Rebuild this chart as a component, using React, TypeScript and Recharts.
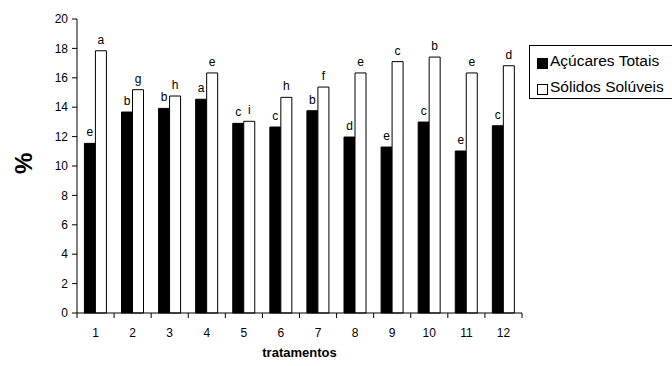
import { BarChart, Bar, XAxis, YAxis, LabelList, Label } from "recharts"

const tratamentos = ["1", "2", "3", "4", "5", "6", "7", "8", "9", "10", "11", "12"]
const acucaresTotais = [11.54, 13.67, 13.92, 14.54, 12.9, 12.65, 13.76, 11.97, 11.29, 12.99, 11.02, 12.74]
const solidosSoluveis = [17.84, 15.19, 14.76, 16.33, 13.04, 14.67, 15.37, 16.33, 17.1, 17.41, 16.33, 16.82]
const letrasAcucares = ["e", "b", "b", "a", "c", "c", "b", "d", "e", "c", "e", "c"]
const letrasSolidos = ["a", "g", "h", "e", "i", "h", "f", "e", "c", "b", "e", "d"]
const yTicks = [0, 2, 4, 6, 8, 10, 12, 14, 16, 18, 20]

const data = tratamentos.map((t, i) => ({
  t,
  acucar: acucaresTotais[i],
  solido: solidosSoluveis[i],
  la: letrasAcucares[i],
  ls: letrasSolidos[i],
}))

const W = 672
const H = 366
const xAxisH = 53
const yAxisW = 77
const margin = { top: 19, right: 150, bottom: 0, left: 0 }
const font = "Arial, 'Liberation Sans', sans-serif"
const step = (W - margin.right - yAxisW) / tratamentos.length
const axisY = H - xAxisH

function CatTick(props: any) {
  const { x, payload, index } = props
  const last = index === tratamentos.length - 1
  return (
    <g>
      <line x1={x - step / 2} x2={x - step / 2} y1={axisY} y2={axisY + 5} stroke="#000" />
      {last && <line x1={x + step / 2} x2={x + step / 2} y1={axisY} y2={axisY + 5} stroke="#000" />}
      <text x={x} y={axisY + 20} textAnchor="middle" dominantBaseline="central" fontSize={12} fontFamily={font} fill="#000">
        {payload.value}
      </text>
    </g>
  )
}

function LegendBox() {
  const items = [
    { label: "Açúcares Totais", fill: "#000" },
    { label: "Sólidos Solúveis", fill: "#fff" },
  ]
  return (
    <div
      style={{
        position: "absolute",
        left: 529,
        top: 45,
        border: "1px solid #000",
        borderRight: "none",
        width: 150,
        height: 54,
        boxSizing: "border-box",
        padding: "5px 0 0 7px",
        fontFamily: font,
        fontSize: 15.5,
        background: "#fff",
      }}
    >
      {items.map((it) => (
        <div key={it.label} style={{ display: "flex", alignItems: "center", height: 20, marginBottom: 6, whiteSpace: "nowrap" }}>
          <span
            style={{
              display: "inline-block",
              width: 9,
              height: 9,
              marginTop: 4,
              background: it.fill,
              border: "1px solid #000",
              marginRight: 2,
            }}
          />
          {it.label}
        </div>
      ))}
    </div>
  )
}

export default function App() {
  return (
    <div style={{ position: "fixed", left: 0, top: 0, width: W, height: H, background: "#fff", overflow: "hidden" }}>
      <BarChart width={W} height={H} data={data} margin={margin} barCategoryGap="20%" barGap={0}>
        <XAxis
          dataKey="t"
          interval={0}
          tickLine={false}
          axisLine={{ stroke: "#000" }}
          tick={<CatTick />}
          height={xAxisH}
        >
          <Label value="tratamentos" position="insideBottom" offset={9} fill="#000" fontWeight="bold" fontSize={13} fontFamily={font} />
        </XAxis>
        <YAxis
          width={yAxisW}
          domain={[0, 20]}
          ticks={yTicks}
          interval={0}
          axisLine={{ stroke: "#000" }}
          tickLine={{ stroke: "#000" }}
          tickSize={5}
          tickMargin={4}
          tick={{ fill: "#000", fontSize: 12, fontFamily: font }}
        >
          <Label value="%" angle={-90} position="insideLeft" offset={23} dy={8} fill="#000" fontWeight="bold" fontSize={24} fontFamily={font} />
        </YAxis>
        <Bar dataKey="acucar" fill="#000" stroke="#000" isAnimationActive={false}>
          <LabelList dataKey="la" position="top" offset={7} fill="#000" style={{ fill: "#000" }} fontSize={12} fontFamily={font} />
        </Bar>
        <Bar dataKey="solido" fill="#fff" stroke="#000" isAnimationActive={false}>
          <LabelList dataKey="ls" position="top" offset={7} fill="#000" style={{ fill: "#000" }} fontSize={12} fontFamily={font} />
        </Bar>
      </BarChart>
      <LegendBox />
    </div>
  )
}
